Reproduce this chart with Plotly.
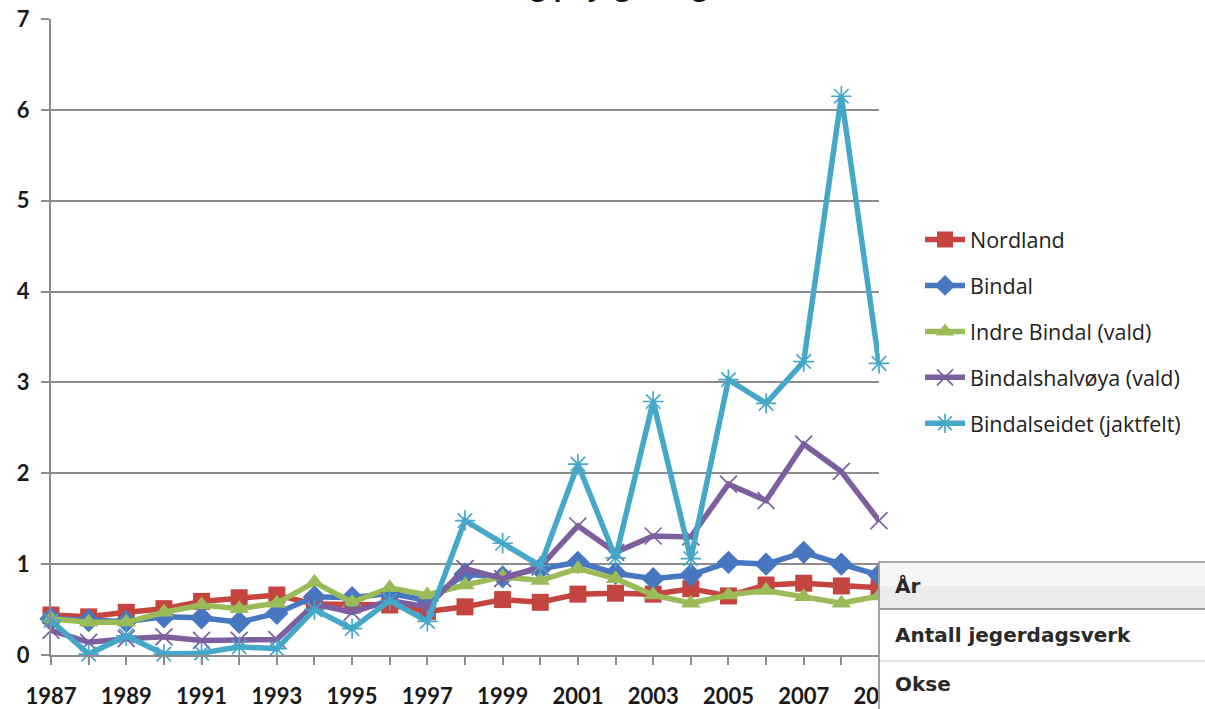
import plotly.graph_objects as go

years = list(range(1987, 2010))

nordland = [0.44, 0.42, 0.47, 0.51, 0.59, 0.63, 0.66, 0.56, 0.55, 0.55, 0.48,
            0.53, 0.61, 0.58, 0.67, 0.68, 0.67, 0.73, 0.65, 0.77, 0.79, 0.76, 0.74]
bindal = [0.40, 0.38, 0.37, 0.42, 0.41, 0.36, 0.46, 0.64, 0.63, 0.68, 0.60,
          0.89, 0.86, 0.95, 1.02, 0.90, 0.84, 0.88, 1.02, 1.00, 1.13, 1.00, 0.88]
indre_bindal = [0.40, 0.36, 0.36, 0.47, 0.55, 0.51, 0.57, 0.80, 0.58, 0.74, 0.66,
                0.77, 0.86, 0.82, 0.95, 0.84, 0.66, 0.57, 0.66, 0.71, 0.64, 0.57, 0.65]
halvoya = [0.27, 0.14, 0.18, 0.20, 0.16, 0.16, 0.17, 0.56, 0.47, 0.60, 0.53,
           0.95, 0.84, 0.97, 1.42, 1.13, 1.31, 1.30, 1.88, 1.70, 2.32, 2.02, 1.48]
eidet = [0.38, 0.01, 0.21, 0.01, 0.02, 0.09, 0.07, 0.50, 0.29, 0.60, 0.37,
         1.48, 1.23, 0.98, 2.10, 1.07, 2.79, 1.06, 3.03, 2.77, 3.23, 6.15, 3.21]

series_names = ["Nordland", "Bindal", "Indre Bindal (vald)",
                "Bindalshalvøya (vald)", "Bindalseidet (jaktfelt)"]
series_values = [nordland, bindal, indre_bindal, halvoya, eidet]
colors = ["#C4453F", "#4677C0", "#9BBB59", "#7D5FA0", "#46A8C8"]
symbols = ["square", "diamond", "triangle-up", "x-thin-open", "asterisk-open"]
msizes = [17, 18, 17, 17, 17]

tick_text = [str(y) if (y - 1987) % 2 == 0 else "" for y in years]
table_rows = ["År", "Antall jegerdagsverk", "Okse"]
title_text = "Sett elg pr jegerdag"

# plot area in pixels
L, R, T, B = 51, 879, 19, 655
W, H = R - L, B - T

def px(x):
    return (x - L) / W

def py(y):
    return (B - y) / H

fig = go.Figure()
for i, (name, vals) in enumerate(zip(series_names, series_values)):
    open_sym = symbols[i].endswith("open")
    fig.add_trace(go.Scatter(
        x=years, y=vals, name=name, mode="lines+markers",
        legendgroup=f"g{i}",
        line=dict(color=colors[i], width=5.5),
        marker=dict(symbol=symbols[i], size=msizes[i], color=colors[i],
                    line=dict(color=colors[i], width=1.7 if open_sym else 0)),
        cliponaxis=False,
    ))

fig.update_layout(
    template="none",
    width=1205, height=709,
    margin=dict(l=L, r=1205 - R, t=T, b=709 - B, autoexpand=False),
    paper_bgcolor="white", plot_bgcolor="white",
    showlegend=True,
    legend=dict(
        x=px(920), y=py(219), xanchor="left", yanchor="top",
        font=dict(family="Open Sans", size=21.5, color="#222222"),
        tracegroupgap=15, traceorder="grouped",
        bgcolor="rgba(0,0,0,0)", itemwidth=40,
    ),
    xaxis=dict(
        range=[1987, 2009], tickmode="array", tickvals=years, ticktext=tick_text,
        showgrid=False, zeroline=False, automargin=False,
        showline=True, linecolor="#8C8C8C", linewidth=2,
        ticks="outside", ticklen=8, tickwidth=2, tickcolor="#8C8C8C",
        tickfont=dict(family="Lato", size=22, color="#1A1A1A", weight="bold"),
        ticklabelstandoff=13,
    ),
    yaxis=dict(
        range=[0, 7], tickmode="array", tickvals=list(range(8)),
        showgrid=True, gridcolor="#8C8C8C", gridwidth=2,
        zeroline=False, automargin=False,
        showline=True, linecolor="#8C8C8C", linewidth=2,
        ticks="outside", ticklen=8, tickwidth=2, tickcolor="#8C8C8C",
        tickfont=dict(family="Lato", size=22, color="#1A1A1A", weight="bold"),
        ticklabelstandoff=7,
    ),
)

# partially visible chart title at the very top
fig.add_annotation(
    text=title_text, xref="paper", yref="paper",
    x=px(575), y=py(6), xanchor="center", yanchor="bottom",
    showarrow=False, font=dict(family="Lato", size=31, color="#111111", weight="bold"),
)

# overlaid table (web page element covering the chart corner)
shapes = [
    dict(type="rect", xref="paper", yref="paper", x0=px(879), x1=px(1210),
         y0=py(562), y1=py(715), fillcolor="white", line=dict(width=0), layer="above"),
    dict(type="rect", xref="paper", yref="paper", x0=px(880), x1=px(1210),
         y0=py(563), y1=py(586), fillcolor="#F6F6F6", line=dict(width=0), layer="above"),
    dict(type="rect", xref="paper", yref="paper", x0=px(880), x1=px(1210),
         y0=py(586), y1=py(609), fillcolor="#ECECEC", line=dict(width=0), layer="above"),
    dict(type="line", xref="paper", yref="paper", x0=px(879), x1=px(879),
         y0=py(561), y1=py(715), line=dict(color="#A0A0A0", width=2), layer="above"),
    dict(type="line", xref="paper", yref="paper", x0=px(878), x1=px(1210),
         y0=py(562), y1=py(562), line=dict(color="#A8A8A8", width=2), layer="above"),
    dict(type="line", xref="paper", yref="paper", x0=px(880), x1=px(1210),
         y0=py(609), y1=py(609), line=dict(color="#9A9A9A", width=2), layer="above"),
    dict(type="line", xref="paper", yref="paper", x0=px(880), x1=px(1210),
         y0=py(661), y1=py(661), line=dict(color="#DDDDDD", width=1.5), layer="above"),
]
fig.update_layout(shapes=shapes)

for label, yc in zip(table_rows, [586, 635, 684]):
    fig.add_annotation(
        text=label, xref="paper", yref="paper", x=px(893), y=py(yc),
        xanchor="left", yanchor="middle", showarrow=False,
        font=dict(family="DejaVu Sans", size=20, color="#2A2A2A", weight="bold"),
    )

fig.write_html(
    "out.html",
    config={"displayModeBar": False},
    post_script="document.body.style.margin='0';document.body.style.overflow='hidden';",
)
